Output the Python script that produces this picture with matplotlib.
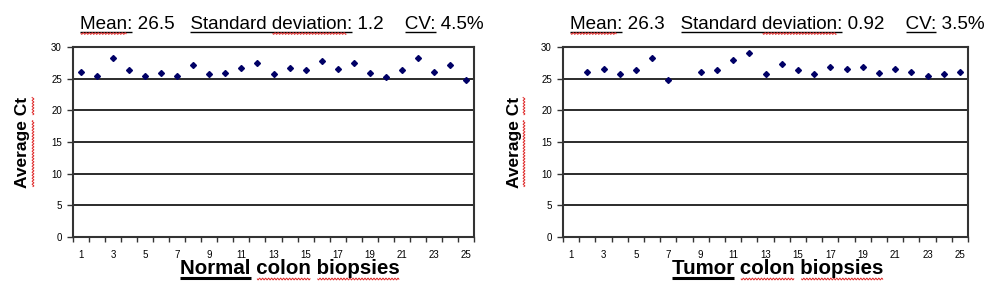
import numpy as np
import matplotlib
matplotlib.use("Agg")
import matplotlib.pyplot as plt
from matplotlib.lines import Line2D

plt.rcParams['font.family'] = ['Liberation Sans', 'DejaVu Sans']

samples = list(range(1, 26))
normal_ct = [26.1, 25.5, 28.3, 26.3, 25.5, 25.9, 25.5, 27.1, 25.7, 25.9,
             26.7, 27.5, 25.7, 26.7, 26.3, 27.8, 26.5, 27.5, 25.9, 25.3,
             26.3, 28.3, 26.1, 27.1, 24.8]
tumor_ct = [np.nan, 26.1, 26.6, 25.7, 26.3, 28.3, 24.8, np.nan, 26.0, 26.3,
            27.9, 29.1, 25.7, 27.3, 26.3, 25.7, 26.9, 26.5, 26.9, 25.9,
            26.6, 26.0, 25.5, 25.7, 26.0]
tick_labels = [str(i) for i in range(1, 26, 2)]
normal_stats = ["26.5", "1.2", "4.5%"]
tumor_stats = ["26.3", "0.92", "3.5%"]
xlabel_first = ["Normal", "Tumor"]

W, H = 1000, 294
fig = plt.figure(figsize=(W / 100, H / 100), dpi=100)
fig.patch.set_facecolor('white')

axes_px = [(73, 47, 401, 190), (563, 47, 405, 190)]
title_x = [80, 570]
xlabel_cx = [290, 778]
ylabel_x = [23, 514]
datasets = [normal_ct, tumor_ct]
stats = [normal_stats, tumor_stats]

renderer = fig.canvas.get_renderer()


def px2fig(x, y):
    return x / W, 1 - y / H


def tw(s, size, weight):
    t = fig.text(0, 0, s, fontsize=size, fontweight=weight)
    w = t.get_window_extent(renderer=renderer).width
    t.remove()
    return w


def start_of(full, idx, size, weight):
    # pixel offset of character idx in string full
    if idx == 0:
        return 0.0
    return tw(full[:idx] + "x", size, weight) - tw("x", size, weight)


def end_of(full, idx, size, weight):
    return tw(full[:idx], size, weight)


def hline(x0, x1, y, lw):
    a0, b = px2fig(x0, y)
    a1, _ = px2fig(x1, y)
    fig.add_artist(Line2D([a0, a1], [b, b], color='black', lw=lw,
                          transform=fig.transFigure, solid_capstyle='butt'))


def squiggle(x0, x1, y0, y1):
    L = np.hypot(x1 - x0, y1 - y0)
    n = max(int(L * 2), 2)
    t = np.linspace(0, 1, n)
    off = 0.9 * np.sin(2 * np.pi * t * L / 3.0)
    dx, dy = (x1 - x0) / L, (y1 - y0) / L
    nx, ny = -dy, dx
    xs = x0 + t * (x1 - x0) + off * nx
    ys = y0 + t * (y1 - y0) + off * ny
    fig.add_artist(Line2D(xs / W, 1 - ys / H, color='#e03030', lw=0.7,
                          transform=fig.transFigure))


def decorated_text(full, x0, y_base, size, weight, center, underlines, squiggles,
                   ul_off, ul_lw, sq_off):
    total = tw(full, size, weight)
    x = x0 - total / 2 if center else x0
    fig.text(*px2fig(x, y_base), full, fontsize=size, fontweight=weight,
             ha='left', va='baseline')
    for word in underlines:
        a = full.index(word)
        s = start_of(full, a, size, weight)
        e = end_of(full, a + len(word), size, weight)
        hline(x + s, x + e, y_base + ul_off, ul_lw)
    for word in squiggles:
        a = full.index(word)
        s = start_of(full, a, size, weight)
        e = end_of(full, a + len(word), size, weight)
        squiggle(x + s + 1, x + e - 1, y_base + sq_off, y_base + sq_off)


for i in range(2):
    lx, ty, w, h = axes_px[i]
    ax = fig.add_axes([lx / W, 1 - (ty + h) / H, w / W, h / H])
    ax.set_xlim(0.5, 25.5)
    ax.set_ylim(0, 30)
    ax.plot(samples, datasets[i], linestyle='none', marker='D', markersize=3.0,
            color='#000066', zorder=3)
    ax.set_yticks(np.arange(0, 31, 5))
    ax.yaxis.grid(True, color='#1a1a1a', lw=1.3)
    ax.set_axisbelow(True)
    ax.set_xticks(range(1, 26, 2))
    ax.set_xticklabels(tick_labels, fontsize=7)
    ax.set_xticks(np.arange(0.5, 26, 1.0), minor=True)
    ax.tick_params(axis='x', which='major', length=0, pad=9)
    ax.tick_params(axis='x', which='minor', length=3.5, width=1, direction='out', color='#333333')
    ax.tick_params(axis='y', labelsize=7, length=4, width=1, color='#333333', pad=4)
    for sp in ax.spines.values():
        sp.set_color('#333333')
        sp.set_linewidth(1.5)

    m, sd, cv = stats[i]
    title = "Mean: " + m + "   Standard deviation: " + sd + "    CV: " + cv
    decorated_text(title, title_x[i], 29, 13.6, 'normal', False,
                   ["Mean:", "Standard deviation:", "CV:"], ["Mean", "deviation"],
                   ul_off=3, ul_lw=1.0, sq_off=4.5)

    xl = xlabel_first[i] + " colon biopsies"
    decorated_text(xl, xlabel_cx[i], 274, 14.8, 'bold', True,
                   [xlabel_first[i]], ["colon", "biopsies"],
                   ul_off=4, ul_lw=2.2, sq_off=5)

    # y label
    yx, yy = px2fig(ylabel_x[i], ty + h / 2)
    yl = fig.text(yx, yy, "Average Ct", rotation=90, fontsize=12.5, fontweight='bold',
                  ha='center', va='center')
    bb = yl.get_window_extent(renderer=renderer)
    wa = tw("Average", 12.5, 'bold')
    ybot = H - bb.y0
    ytop = H - bb.y1
    xr = ylabel_x[i] + 10
    squiggle(xr, xr, ybot - 1, ybot - wa + 1)
    squiggle(xr, xr, ybot - wa - 5, ytop + 1)

fig.savefig('out.png', dpi=100, facecolor='white')
